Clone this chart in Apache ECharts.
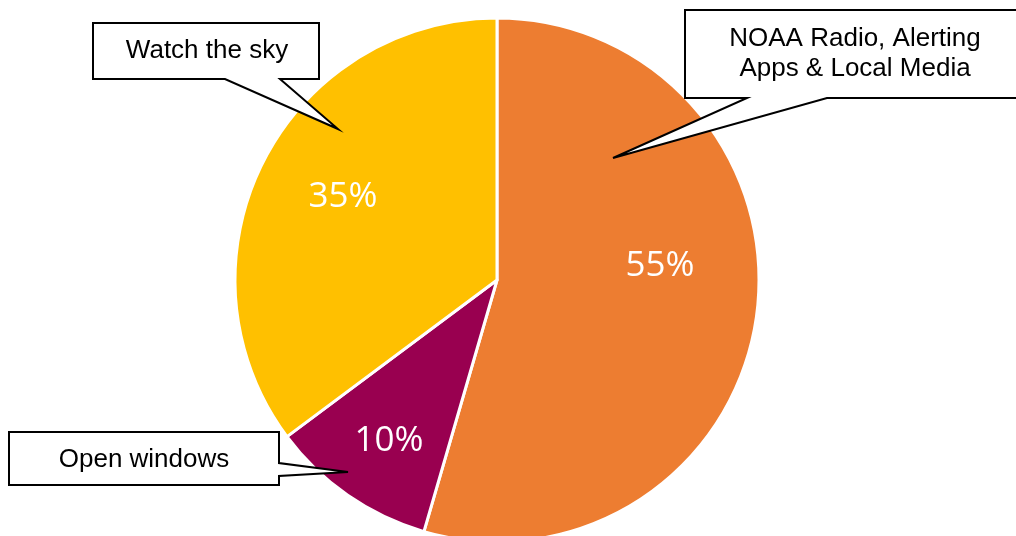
<!DOCTYPE html>
<html>
<head>
<meta charset="utf-8">
<style>
  html, body { margin: 0; padding: 0; background: #fff; }
  #chart { width: 1016px; height: 536px; }
</style>
<script src="https://cdn.jsdelivr.net/npm/echarts@6/dist/echarts.min.js"></script>
</head>
<body>
<div id="chart"></div>
<script>
// ---- data ----
const categories = ['NOAA Radio, Alerting\nApps & Local Media', 'Open windows', 'Watch the sky'];
const values = [54.5, 10.3, 35.2];
const colors = ['#ED7D31', '#990050', '#FFC000'];

// ---- layout (annotation geometry) ----
const pctLabelPos = [[660, 266], [389, 441], [343, 197]];
const callouts = [
  { idx: 0, points: [[685,10],[1022,10],[1022,98],[827,98],[613,158],[747,98],[685,98]], text: [855, 54] },
  { idx: 1, points: [[9,432],[279,432],[279,463],[348,472],[279,476],[279,485],[9,485]], text: [144, 460] },
  { idx: 2, points: [[93,23],[319,23],[319,79],[280,79],[338,129],[225,79],[93,79]], text: [207, 51] }
];

const chart = echarts.init(document.getElementById('chart'), null, { renderer: 'canvas' });

const graphics = [];
callouts.forEach(c => {
  graphics.push({
    type: 'polygon',
    z: 100,
    shape: { points: c.points },
    style: { fill: '#ffffff', stroke: '#000000', lineWidth: 2, lineJoin: 'miter' }
  });
  graphics.push({
    type: 'text',
    z: 101,
    x: c.text[0],
    y: c.text[1],
    style: {
      text: categories[c.idx],
      fill: '#000000',
      font: '26px "Liberation Sans", Arial, sans-serif',
      align: 'center',
      verticalAlign: 'middle',
      lineHeight: 30
    }
  });
});

chart.setOption({
  animation: false,
  backgroundColor: '#ffffff',
  color: colors,
  series: [{
    type: 'pie',
    center: [497, 280],
    radius: 262,
    startAngle: 90,
    clockwise: true,
    percentPrecision: 0,
    data: categories.map((n, i) => ({ name: n, value: values[i] })),
    itemStyle: { borderColor: '#ffffff', borderWidth: 3 },
    label: {
      show: true,
      position: 'inside',
      formatter: '{d}%',
      color: '#ffffff',
      fontSize: 35,
      fontFamily: '"Open Sans", "Liberation Sans", sans-serif',
      align: 'center',
      verticalAlign: 'middle'
    },
    labelLine: { show: false },
    labelLayout: function (p) {
      const pos = pctLabelPos[p.dataIndex];
      return { x: pos[0], y: pos[1], align: 'center', verticalAlign: 'middle' };
    },
    emphasis: { disabled: true },
    silent: true
  }],
  graphic: graphics
});
</script>
</body>
</html>
